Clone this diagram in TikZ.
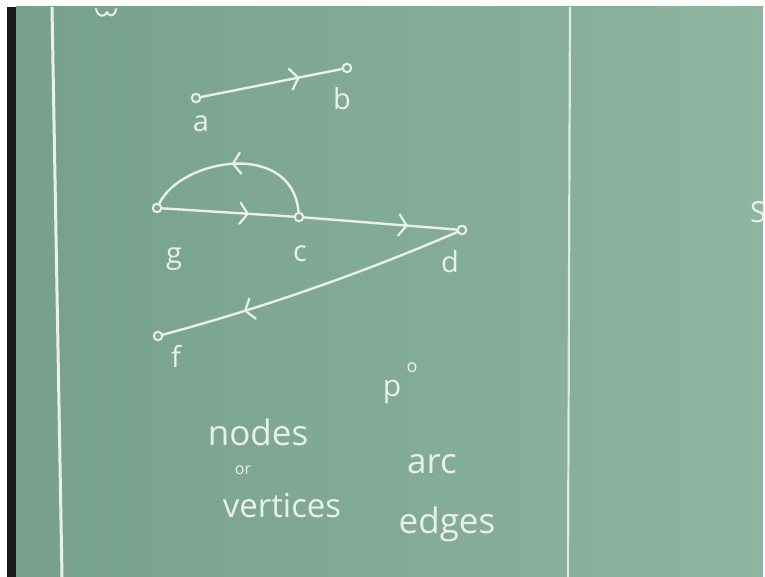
\documentclass[tikz,border=0pt]{standalone}
\usepackage{fontspec}
\setmainfont{Open Sans}
\usetikzlibrary{arrows.meta,decorations.markings}
\definecolor{chalk}{RGB}{232,240,232}
\definecolor{boardL}{RGB}{118,160,142}
\definecolor{boardR}{RGB}{142,180,162}
\definecolor{boardM}{RGB}{128,168,150}
\tikzset{
  chalkline/.style={draw=chalk, line width=2.4pt, line cap=round, line join=round},
  vtx/.style={circle, draw=chalk, line width=2pt, fill=boardM, inner sep=0pt, minimum size=8.5pt},
  lbl/.style={text=chalk, font=\fontsize{29}{29}\selectfont, inner sep=0pt},
  word/.style={text=chalk, font=\fontsize{35}{35}\selectfont, inner sep=0pt},
  midchev/.style={postaction={decorate}, decoration={markings,
     mark=at position #1 with {\arrow[chalk, line width=2.2pt]{Straight Barb[length=8pt, width=22pt]}}}}
}
\begin{document}
\begin{tikzpicture}[x=1pt,y=-1pt]
\useasboundingbox (0,0) rectangle (765,577);
% frame
\fill[white] (0,0) rectangle (765,577);
\fill[black!90] (7,7) rectangle (16,577);
\shade[left color=boardL, right color=boardR] (16,7) rectangle (763,577);
\begin{scope}
\clip (16,7) rectangle (763,577);
% board ruling lines
\draw[chalk, line width=3pt] (52,7) -- (62,577);
\draw[chalk!90!boardR, line width=2.2pt] (570,7) -- (568,577);
% cut-off fragments
\draw[chalkline, line width=2pt] (96,9) .. controls (98,17) and (104,18) .. (107,12) .. controls (110,18) and (115,16) .. (116,9);
\node[lbl, anchor=west] (sfrag) at (750,212) {S};
\end{scope}
% vertices
\node[vtx] (a) at (196,98) {};
\node[vtx] (b) at (347,68) {};
\node[vtx] (g) at (157,208) {};
\node[vtx] (c) at (299,217) {};
\node[vtx] (d) at (462,230) {};
\node[vtx] (f) at (158,336) {};
% labels
\node[lbl] (la) at (201,124) {a};
\node[lbl] (lb) at (342,99) {b};
\node[lbl] (lg) at (174,259) {g};
\node[lbl] (lc) at (300,254) {c};
\node[lbl] (ld) at (450,262) {d};
\node[lbl] (lf) at (176,356) {f};
% edges
\draw[chalkline, midchev=0.70] (a) -- (b);
\draw[chalkline, midchev=0.66] (g) -- (c);
\draw[chalkline, midchev=0.68] (c) -- (d);
\draw[chalkline, midchev=0.52] (c) .. controls (292,140) and (182,158) .. (g);
\draw[chalkline, midchev=0.73] (d) .. controls (360,274) and (262,308) .. (f);
% words
\node[lbl, font=\fontsize{30}{30}\selectfont] (p) at (392,392) {p};
\node[lbl, font=\fontsize{18}{18}\selectfont] (deg) at (412,368) {o};
\node[word] (nodes) at (258,432) {nodes};
\node[lbl, font=\fontsize{16}{16}\selectfont] (or) at (243,470) {or};
\node[word, font=\fontsize{33}{33}\selectfont] (vert) at (282,506) {vertices};
\node[word] (arc) at (432,464) {arc};
\node[word] (edges) at (447,524) {edges};
\end{tikzpicture}
\end{document}
